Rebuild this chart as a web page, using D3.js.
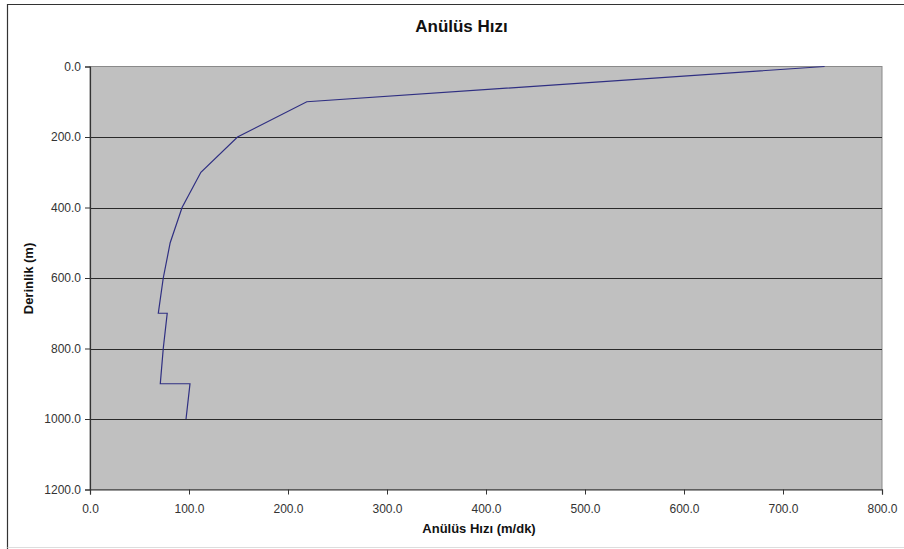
<!DOCTYPE html>
<html><head><meta charset="utf-8">
<script src="https://cdn.jsdelivr.net/npm/d3@7"></script>
<style>
html,body{margin:0;padding:0;background:#fff;}
text{font-family:"Liberation Sans",Arial,sans-serif;}
</style></head>
<body>
<svg id="c" width="904" height="549"></svg>
<script>
const title = "Anülüs Hızı";
const xLabel = "Anülüs Hızı (m/dk)";
const yLabel = "Derinlik (m)";
const depths = [0,100,200,300,400,500,600,700,700,800,900,900,1000];
const speeds = [742,219,149,112,93,81,74,69,78,74,71,101,97];
const xTicks = [0,100,200,300,400,500,600,700,800];
const yTicks = [0,200,400,600,800,1000,1200];

const svg = d3.select("#c");
const L=90, R=882, T=66.5, B=489.5;
const x = d3.scaleLinear().domain([0,800]).range([L,R]);
const y = d3.scaleLinear().domain([0,1200]).range([T,B]);

// outer frame
svg.append("path").attr("d","M7.5,549 V4.5 H904").attr("fill","none").attr("stroke","#333").attr("stroke-width",1.2);
svg.append("line").attr("x1",7.5).attr("x2",904).attr("y1",547.5).attr("y2",547.5).attr("stroke","#ddd");

// plot area
svg.append("rect").attr("x",L).attr("y",T).attr("width",R-L).attr("height",B-T)
  .attr("fill","#c0c0c0").attr("stroke","#8a8a8a").attr("stroke-width",1);

// gridlines
svg.append("g").selectAll("line").data(yTicks.filter(d=>d>0&&d<1200)).join("line")
  .attr("x1",L).attr("x2",R).attr("y1",d=>Math.round(y(d))+0.5).attr("y2",d=>Math.round(y(d))+0.5)
  .attr("stroke","#2a2a2a").attr("stroke-width",1);

// axes
const fmt = d3.format(".1f");
const yAxis = svg.append("g").attr("transform",`translate(${L},0)`)
  .call(d3.axisLeft(y).tickValues(yTicks).tickFormat(fmt).tickSize(5).tickPadding(4));
const xAxis = svg.append("g").attr("transform",`translate(0,${B})`)
  .call(d3.axisBottom(x).tickValues(xTicks).tickFormat(fmt).tickSize(5).tickPadding(10));
[yAxis,xAxis].forEach(a=>{
  a.select(".domain").attr("stroke","#333").attr("stroke-width",1.2);
  a.selectAll(".tick line").attr("stroke","#333");
  a.selectAll(".tick text").attr("fill","#333").style("font-size","12px").style("font-family","Liberation Sans, Arial, sans-serif");
});

// line
const line = d3.line().x((d,i)=>x(speeds[i])).y((d,i)=>y(depths[i]));
svg.append("path").datum(depths).attr("d",line).attr("fill","none")
  .attr("stroke","#2f2f82").attr("stroke-width",1.2);

// texts
svg.append("text").attr("x",461.5).attr("y",32).attr("text-anchor","middle")
  .style("font-size","17px").style("font-weight","bold").attr("fill","#111").text(title);
svg.append("text").attr("x",479).attr("y",532.5).attr("text-anchor","middle")
  .style("font-size","13px").style("font-weight","bold").attr("fill","#111").text(xLabel);
svg.append("text").attr("transform","translate(32.5,278.5) rotate(-90)").attr("text-anchor","middle")
  .style("font-size","13px").style("font-weight","bold").attr("fill","#111").text(yLabel);
</script>
</body></html>
